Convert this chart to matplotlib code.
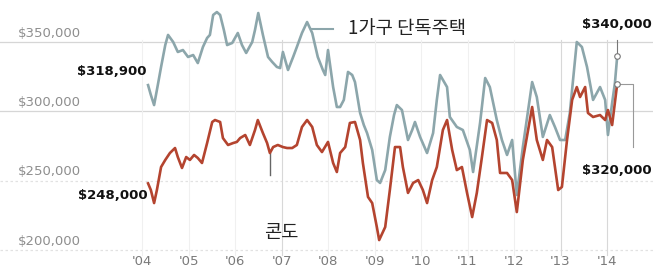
import matplotlib
matplotlib.use("Agg")
import matplotlib.pyplot as plt

# single-family homes (decimal year, $ thousands)
sf_t = [2004.13, 2004.19, 2004.26, 2004.34, 2004.41, 2004.50, 2004.56, 2004.67, 2004.77, 2004.88,
        2004.99, 2005.10, 2005.20, 2005.31, 2005.40, 2005.46, 2005.53, 2005.61, 2005.68, 2005.76,
        2005.83, 2005.94, 2006.06, 2006.15, 2006.24, 2006.37, 2006.43, 2006.50, 2006.60, 2006.71,
        2006.80, 2006.90, 2006.97, 2007.03, 2007.14, 2007.25, 2007.33, 2007.44, 2007.55, 2007.66,
        2007.78, 2007.89, 2007.94, 2008.00, 2008.11, 2008.19, 2008.26, 2008.34, 2008.43, 2008.52,
        2008.58, 2008.69, 2008.77, 2008.84, 2008.95, 2009.05, 2009.12, 2009.23, 2009.33, 2009.42,
        2009.48, 2009.59, 2009.72, 2009.81, 2009.87, 2009.98, 2010.13, 2010.26, 2010.34, 2010.41,
        2010.56, 2010.62, 2010.77, 2010.90, 2011.05, 2011.12, 2011.27, 2011.38, 2011.48, 2011.63,
        2011.74, 2011.85, 2011.96, 2012.06, 2012.19, 2012.39, 2012.49, 2012.62, 2012.77, 2012.88,
        2012.99, 2013.10, 2013.20, 2013.35, 2013.46, 2013.57, 2013.70, 2013.85, 2013.96, 2014.02,
        2014.11, 2014.17, 2014.22]
sf_v = [318.9, 311.8, 304.5, 319.0, 332.0, 347.8, 355.1, 350.0, 342.8, 344.2,
        339.2, 340.6, 334.8, 346.4, 352.9, 355.1, 369.5, 371.6, 369.5, 358.7,
        347.8, 349.3, 356.5, 347.8, 342.1, 350.0, 358.7, 370.9, 355.1, 339.2,
        335.6, 332.0, 331.2, 342.8, 329.8, 339.2, 346.4, 356.5, 364.4, 356.5,
        339.2, 329.8, 326.2, 344.2, 317.5, 303.1, 303.1, 308.2, 328.4, 326.2,
        321.1, 298.8, 290.1, 284.3, 272.1, 250.4, 248.3, 257.6, 281.5, 297.3,
        304.5, 300.9, 279.3, 286.5, 292.3, 281.5, 269.9, 284.3, 308.2, 326.2,
        317.5, 295.9, 288.7, 286.5, 272.1, 256.2, 291.6, 324.0, 317.5, 293.7,
        279.3, 268.5, 279.3, 239.6, 274.2, 321.1, 310.3, 281.5, 297.3, 288.7,
        279.3, 279.3, 298.8, 350.0, 346.4, 332.0, 308.2, 317.5, 308.2, 282.9,
        306.0, 320.4, 340.0]

# condos
condo_t = [2004.13, 2004.19, 2004.26, 2004.32, 2004.41, 2004.50, 2004.60, 2004.71, 2004.77, 2004.86,
           2004.95, 2005.03, 2005.12, 2005.20, 2005.29, 2005.40, 2005.51, 2005.57, 2005.68, 2005.74,
           2005.85, 2005.96, 2006.04, 2006.11, 2006.22, 2006.32, 2006.43, 2006.49, 2006.60, 2006.69,
           2006.75, 2006.82, 2006.92, 2007.03, 2007.12, 2007.23, 2007.33, 2007.44, 2007.55, 2007.66,
           2007.76, 2007.87, 2008.00, 2008.11, 2008.19, 2008.26, 2008.37, 2008.47, 2008.58, 2008.69,
           2008.75, 2008.86, 2008.95, 2009.05, 2009.10, 2009.23, 2009.33, 2009.44, 2009.55, 2009.61,
           2009.72, 2009.83, 2009.94, 2010.04, 2010.13, 2010.24, 2010.34, 2010.47, 2010.56, 2010.67,
           2010.77, 2010.88, 2010.99, 2011.10, 2011.20, 2011.31, 2011.42, 2011.53, 2011.63, 2011.70,
           2011.85, 2011.96, 2012.06, 2012.19, 2012.39, 2012.49, 2012.62, 2012.71, 2012.82, 2012.95,
           2013.03, 2013.14, 2013.25, 2013.35, 2013.42, 2013.53, 2013.59, 2013.70, 2013.85, 2013.96,
           2014.02, 2014.11, 2014.22]
condo_v = [248.0, 243.2, 233.8, 243.2, 259.8, 264.9, 269.9, 273.5, 267.0, 259.1,
           267.0, 264.9, 268.5, 266.3, 262.7, 277.1, 292.3, 293.7, 292.3, 280.7,
           275.7, 277.1, 277.9, 280.7, 282.9, 275.7, 286.5, 293.7, 284.3, 277.1,
           269.9, 274.2, 275.7, 274.2, 273.5, 273.5, 275.7, 288.7, 293.7, 288.7,
           275.7, 270.6, 277.9, 262.7, 256.2, 269.9, 274.2, 291.6, 292.3, 279.3,
           262.7, 238.2, 233.8, 216.5, 207.1, 216.5, 243.2, 274.2, 274.2, 259.8,
           241.1, 248.3, 250.4, 243.2, 233.8, 250.4, 259.8, 286.5, 293.7, 272.1,
           257.6, 259.8, 241.1, 223.7, 241.1, 267.0, 293.7, 291.6, 279.3, 255.5,
           255.5, 250.4, 227.3, 264.9, 303.1, 279.3, 264.9, 279.3, 274.2, 243.2,
           245.4, 279.3, 308.2, 317.5, 310.3, 317.5, 298.8, 295.9, 297.3, 293.7,
           300.9, 290.1, 320.0]

years = list(range(2004, 2015))
year_labels = ["'04", "'05", "'06", "'07", "'08", "'09", "'10", "'11", "'12", "'13", "'14"]
grid_vals = [350, 300, 250, 200]
grid_labels = ["$350,000", "$300,000", "$250,000", "$200,000"]

sf_color = "#8ca6ab"
condo_color = "#b4442f"
kr = ["Noto Sans CJK KR", "DejaVu Sans"]

fig = plt.figure(figsize=(6.53, 2.69), dpi=100)
ax = fig.add_axes([0, 0, 1, 1])
ax.set_xlim(2000.946, 2014.989)
ax.set_ylim(186.22, 380.30)
ax.axis("off")

# grid
for v in grid_vals:
    if v >= 300:
        ax.axhline(v, color="#d6d6d6", lw=0.9, zorder=1)
    else:
        ax.axhline(v, color="#e2e2e2", lw=0.9, ls=(0, (2, 2)), zorder=1)
for y in years:
    c = "#d8d8d8" if y in (2007, 2013, 2014) else "#f0f0f0"
    ax.plot([y, y], [196.3, 351.4], color=c, lw=0.8, zorder=1)

for v, lab in zip(grid_vals, grid_labels):
    ax.text(2001.33, v + 6.3, lab, ha="left", va="center", fontsize=9.5,
            color="#8e8e8e")
for y, lab in zip(years, year_labels):
    ax.text(y, 191.3, lab, ha="center", va="center", fontsize=9.5, color="#7a7a7a")

# series
ax.plot(sf_t, sf_v, color=sf_color, lw=1.9, zorder=3, solid_joinstyle="round")
ax.plot(condo_t, condo_v, color=condo_color, lw=1.9, zorder=4, solid_joinstyle="round")

# labels for series
ax.plot([2007.63, 2008.11], [359.4, 359.4], color=sf_color, lw=1.5, zorder=2)
ax.text(2008.43, 359.4, "1가구 단독주택", ha="left", va="center", fontsize=13.5,
        family=kr, color="#222222")
ax.plot([2006.75, 2006.75], [269.9, 254.0], color="#666666", lw=1.0, zorder=2)
ax.text(2006.99, 212.2, "콘도", ha="center", va="center", fontsize=13.5,
        family=kr, color="#222222")

# value callouts
bold = dict(fontsize=9.5, fontweight="bold", color="#111111")
ax.text(2004.09, 328.4, "$318,900", ha="right", va="center", **bold)
ax.text(2004.11, 239.6, "$248,000", ha="right", va="center", **bold)
ax.text(2014.97, 362.3, "$340,000", ha="right", va="center", **bold)
ax.text(2014.97, 257.6, "$320,000", ha="right", va="center", **bold)

ax.plot([sf_t[-1], sf_t[-1]], [351.4, sf_v[-1]], color="#777777", lw=0.8, zorder=2)
ax.plot([condo_t[-1], 2014.56, 2014.56], [condo_v[-1], condo_v[-1], 274.2],
        color="#999999", lw=0.8, zorder=2)
ax.plot(sf_t[-1], sf_v[-1], "o", ms=4, mfc="white", mec="#777777", mew=0.8, zorder=5)
ax.plot(condo_t[-1], condo_v[-1], "o", ms=4, mfc="white", mec="#777777", mew=0.8, zorder=5)

fig.savefig("out.png", dpi=100)
